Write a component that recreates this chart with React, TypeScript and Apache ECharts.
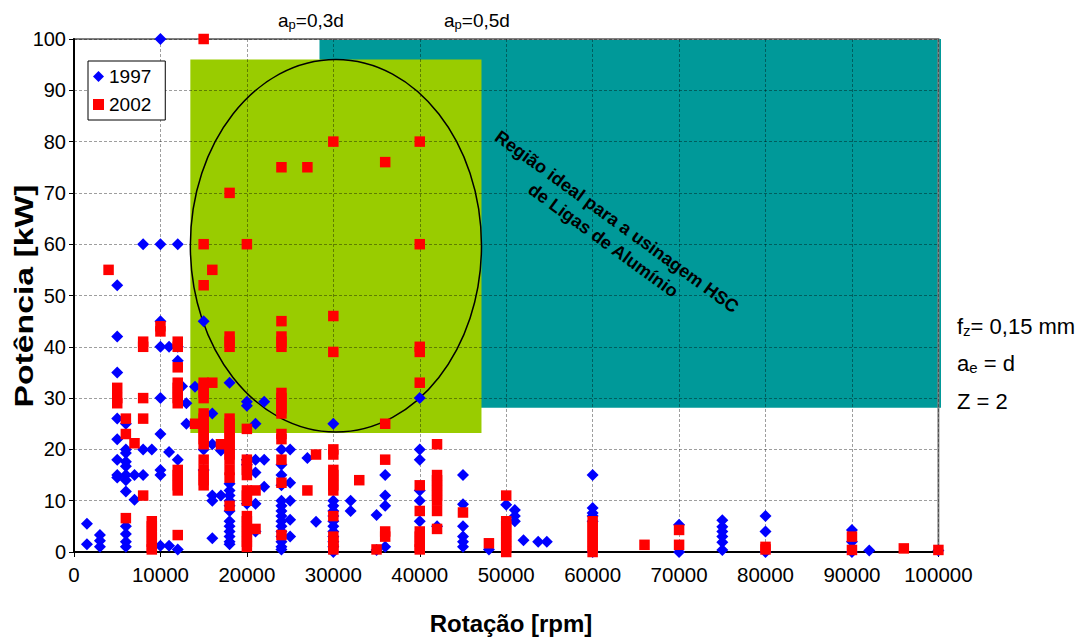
import { useEffect, useRef } from "react";
import * as echarts from "echarts";

const FONT = '"Liberation Sans", Arial, sans-serif';

// Axis ranges / ticks
const X_MIN = 0;
const X_MAX = 100000;
const X_STEP = 10000;
const Y_MIN = 0;
const Y_MAX = 100;
const Y_STEP = 10;

// 1997 measurements: [rotação (rpm), potência values (kW)]
const cols1997: [number, number[]][] = [
  [1500, [5.5, 1.5]],
  [3000, [3.3, 2.2, 1]],
  [5000, [52, 42, 35, 26, 22, 18, 15, 14.5]],
  [6000, [25, 20, 19.3, 17.6, 16.7, 15, 14, 11.8, 5, 3.5, 2, 1]],
  [7000, [15, 10.2]],
  [8000, [60, 20, 15]],
  [9000, [20]],
  [10000, [100, 60, 45, 40, 30, 23, 16, 15, 1.2]],
  [11000, [40, 19.5, 1.2]],
  [12000, [60, 40, 37.3, 18, 0.5]],
  [12500, [32.3]],
  [13000, [29, 25]],
  [14000, [32.2]],
  [15000, [45, 20, 16]],
  [16000, [27, 21, 11, 10, 2.7]],
  [17000, [19.8, 11]],
  [18000, [33, 13.3, 12, 11, 10, 9, 8, 6, 5, 4, 3, 2, 1.5]],
  [20000, [29.3, 28.5, 18, 17, 9.4]],
  [21000, [25, 18, 15.5, 9.4, 4]],
  [22000, [29.3, 18, 12.7]],
  [24000, [20, 17, 15, 13, 10, 9, 8, 7, 6, 5, 4, 3, 2, 1, 0.5]],
  [25000, [20, 13.5, 10, 6.3, 3]],
  [27000, [18.3]],
  [28000, [5.9]],
  [30000, [25, 10, 9, 8, 7, 6, 5, 4, 3, 2, 1, 0]],
  [32000, [10, 8]],
  [35000, [7.2, 0.4]],
  [36000, [15, 11, 9, 1]],
  [40000, [30, 20, 18, 12, 10, 6]],
  [42000, [5]],
  [45000, [15, 9.3, 5, 3, 2, 1]],
  [48000, [0.5]],
  [50000, [9.2]],
  [51000, [8.2, 7, 6]],
  [52000, [2.3]],
  [53700, [2]],
  [54700, [2]],
  [60000, [15, 8.6, 7.6, 7, 6, 0]],
  [70000, [5.3, 0]],
  [75000, [6.2, 4.9, 4, 3, 1.9, 0.4]],
  [80000, [7, 4, 0]],
  [90000, [4.3, 2, 0]],
  [92000, [0.3]],
  [100000, [0.3]],
];

// 2002 measurements: [rotação (rpm), potência values (kW)]
const cols2002: [number, number[]][] = [
  [4000, [55]],
  [5000, [32, 30, 29]],
  [6000, [26, 23, 6.6]],
  [7000, [21.2]],
  [8000, [41, 40, 30, 26, 11]],
  [9000, [6, 5, 4, 3, 2, 1, 0.5]],
  [10000, [44, 43]],
  [12000, [41, 40, 36, 33, 32, 31, 30, 29, 16, 15, 14, 13, 12, 3.3]],
  [14000, [25]],
  [15000, [100, 60, 52, 33, 32, 31, 30, 27, 26, 25, 24, 23, 22, 21, 18, 16, 15, 14, 13]],
  [16000, [55, 33]],
  [17000, [21]],
  [18000, [70, 42, 41, 40, 26, 25, 24, 23, 22, 21, 20, 19, 18, 16, 14.5, 9]],
  [20000, [60, 24, 18, 17, 16, 15, 12, 11, 10, 7, 6, 5, 4, 3, 2, 1]],
  [21000, [12, 4.5]],
  [24000, [75, 45, 42, 41, 40, 31, 30, 29, 28, 27, 23, 22, 18, 13.5, 3.3]],
  [27000, [75, 12]],
  [28000, [19]],
  [30000, [80, 46, 39, 20, 19, 16, 15, 14, 13, 12, 7, 3, 2, 1, 0.5]],
  [33000, [14]],
  [35000, [0.5]],
  [36000, [76, 25, 18, 4, 3]],
  [40000, [80, 60, 40, 39, 33, 13, 8, 4, 3, 2, 1, 0.5]],
  [42000, [21, 15, 14, 13, 12, 11, 10, 8, 4.5]],
  [45000, [7.7]],
  [48000, [1.7]],
  [50000, [11, 6, 5, 4, 3, 2, 1, 0]],
  [60000, [6, 5, 4, 3, 2, 1, 0]],
  [66000, [1.4]],
  [70000, [4.3, 1.4]],
  [80000, [1, 0.5]],
  [90000, [3, 0.4]],
  [96000, [0.7]],
  [100000, [0.4]],
];

// Regions in data units: [xMin, yMin, xMax, yMax]
const idealRegion = [28400, 28.1, 100300, 100]; // Região ideal HSC (teal)
const apRegion = [13460, 23.2, 47140, 96]; // a_p 0,3d..0,5d (green)
const regionColors = ["#009999", "#99CC00"];
// Ellipse in data units: [cx, cy, rx, ry]
const ellipseShape = [30300, 59.7, 16840, 36.3];

const flatten = (cols: [number, number[]][]) =>
  cols.flatMap(([x, ys]) => ys.map((y) => [x, y]));

export default function App() {
  const ref = useRef<HTMLDivElement>(null);

  useEffect(() => {
    if (!ref.current) return;
    const chart = echarts.init(ref.current, null, { renderer: "svg" });

    const subRich = (size: number) => ({
      n: { fontSize: size, fontFamily: FONT, color: "#000" },
      s: { fontSize: Math.round(size * 0.68), fontFamily: FONT, color: "#000", padding: [9, 0, 0, 0] },
    });

    const option: any = {
      animation: false,
      grid: {
        left: 74,
        right: 151.6,
        top: 39,
        bottom: 85,
        show: true,
        borderColor: "#808080",
        borderWidth: 2,
        backgroundColor: "transparent",
      },
      legend: {
        orient: "vertical",
        left: 88,
        top: 61,
        padding: [6, 14, 6, 5],
        itemGap: 9,
        itemWidth: 11,
        itemHeight: 11,
        backgroundColor: "#fff",
        borderColor: "#000",
        borderWidth: 1,
        borderRadius: 0,
        textStyle: { fontSize: 19, fontFamily: FONT, color: "#000" },
        data: [
          { name: "1997", icon: "diamond" },
          { name: "2002", icon: "rect" },
        ],
      },
      xAxis: {
        type: "value",
        min: X_MIN,
        max: X_MAX,
        interval: X_STEP,
        axisLine: { show: true, onZero: false, lineStyle: { color: "#000", width: 2 } },
        axisTick: { show: true, length: 5, lineStyle: { color: "#000" } },
        axisLabel: {
          fontSize: 20.5,
          fontFamily: FONT,
          color: "#000",
          margin: 12,
          formatter: (v: number) => String(v),
        },
        splitLine: { show: true, lineStyle: { color: "rgba(0,0,0,0.38)", type: [3, 2], width: 1 } },
      },
      yAxis: {
        type: "value",
        min: Y_MIN,
        max: Y_MAX,
        interval: Y_STEP,
        axisLine: { show: true, onZero: false, lineStyle: { color: "#000", width: 2 } },
        axisTick: { show: true, length: 5, lineStyle: { color: "#000" } },
        axisLabel: { fontSize: 20, fontFamily: FONT, color: "#000", margin: 8 },
        splitLine: { show: true, lineStyle: { color: "rgba(0,0,0,0.38)", type: [3, 2], width: 1 } },
      },
      series: [
        {
          type: "custom",
          name: "regions",
          z: -1,
          silent: true,
          data: [idealRegion, apRegion],
          renderItem: (params: any, api: any) => {
            const p1 = api.coord([api.value(0), api.value(3)]);
            const p2 = api.coord([api.value(2), api.value(1)]);
            return {
              type: "rect",
              shape: { x: p1[0], y: p1[1], width: p2[0] - p1[0], height: p2[1] - p1[1] },
              style: { fill: regionColors[params.dataIndex] },
            };
          },
        },
        {
          type: "custom",
          name: "ellipse",
          silent: true,
          data: [ellipseShape],
          renderItem: (_params: any, api: any) => {
            const c = api.coord([api.value(0), api.value(1)]);
            const rx = api.size([api.value(2), 0])[0];
            const ry = api.size([0, api.value(3)])[1];
            return {
              type: "ellipse",
              shape: { cx: c[0], cy: c[1], rx, ry },
              style: { fill: "none", stroke: "#000", lineWidth: 1.5 },
            };
          },
        },
        {
          type: "scatter",
          name: "1997",
          symbol: "diamond",
          symbolSize: 12,
          itemStyle: { color: "#0000FF", opacity: 1 },
          data: flatten(cols1997),
        },
        {
          type: "scatter",
          name: "2002",
          symbol: "rect",
          symbolSize: 10.5,
          itemStyle: { color: "#FF0000", opacity: 1 },
          data: flatten(cols2002),
        },
      ],
      graphic: [
        {
          type: "text",
          x: 24,
          y: 296,
          rotation: Math.PI / 2,
          scaleX: 1.35,
          style: {
            text: "Potência [kW]",
            font: `bold 25px ${FONT}`,
            fill: "#000",
            align: "center",
            verticalAlign: "middle",
          },
        },
        {
          type: "text",
          x: 511,
          y: 623,
          style: {
            text: "Rotação [rpm]",
            font: `bold 24px ${FONT}`,
            fill: "#000",
            align: "center",
            verticalAlign: "middle",
          },
        },
        {
          type: "text",
          x: 278,
          y: 20,
          style: {
            text: "{n|a}{s|p}{n|=0,3d}",
            rich: subRich(19),
            verticalAlign: "middle",
          },
        },
        {
          type: "text",
          x: 444,
          y: 20,
          style: {
            text: "{n|a}{s|p}{n|=0,5d}",
            rich: subRich(19),
            verticalAlign: "middle",
          },
        },
        {
          type: "text",
          x: 610,
          y: 231,
          rotation: (-36 * Math.PI) / 180,
          style: {
            text: "Região ideal para a usinagem HSC\nde Ligas de Alumínio",
            font: `bold 18px ${FONT}`,
            lineHeight: 23,
            fill: "#000",
            align: "center",
            verticalAlign: "middle",
          },
        },
        {
          type: "text",
          x: 957,
          y: 326,
          style: { text: "{n|f}{s|z}{n|= 0,15 mm}", rich: subRich(22), verticalAlign: "middle" },
        },
        {
          type: "text",
          x: 957,
          y: 363,
          style: { text: "{n|a}{s|e}{n| = d}", rich: subRich(22), verticalAlign: "middle" },
        },
        {
          type: "text",
          x: 957,
          y: 401,
          style: { text: "{n|Z = 2}", rich: subRich(22), verticalAlign: "middle" },
        },
      ],
    };

    chart.setOption(option);
    return () => chart.dispose();
  }, []);

  return (
    <div
      ref={ref}
      style={{ position: "fixed", left: 0, top: 0, width: 1090, height: 637, background: "#fff" }}
    />
  );
}
